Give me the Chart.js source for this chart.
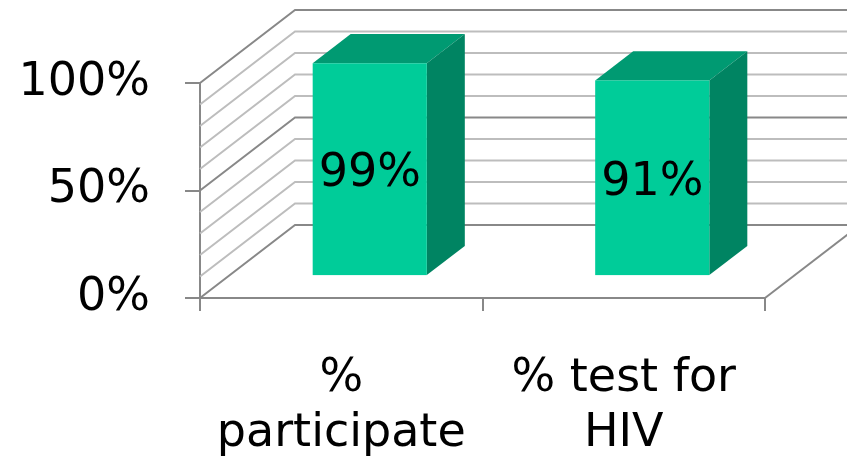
<!DOCTYPE html>
<html>
<head>
<meta charset="utf-8">
<script src="https://cdn.jsdelivr.net/npm/chart.js@4"></script>
<style>
  html, body { margin: 0; padding: 0; background: #fff; }
  #wrap { width: 847px; height: 458px; }
</style>
</head>
<body>
<div id="wrap"><canvas id="hivChart"></canvas></div>
<script>
// categories and results (percent)
const categories = [["%", "participate"], ["% test for", "HIV"]];
const results = [99, 91];
const yMax = 100;
const yStep = 50;
const gridStep = 10;

// 3d look: how far the back wall sits from the front plane
const DEPTH_X = 95;
const DEPTH_Y = -73;
const BAR_FRONT = 0.3;
const BAR_BACK = 0.7;

const FONT = "DejaVu Sans, Verdana, sans-serif";

const frame3d = {
  id: "frame3d",
  beforeDatasetsDraw(chart) {
    const ctx = chart.ctx;
    const area = chart.chartArea;
    const y = chart.scales.y;
    ctx.save();
    ctx.lineWidth = 2;
    for (let v = 0; v <= yMax; v += gridStep) {
      const py = y.getPixelForValue(v);
      ctx.strokeStyle = v % yStep === 0 ? "#888888" : "#bdbdbd";
      ctx.beginPath();
      // side wall diagonal + back wall line
      ctx.moveTo(area.left, py);
      ctx.lineTo(area.left + DEPTH_X, py + DEPTH_Y);
      ctx.lineTo(area.right + DEPTH_X, py + DEPTH_Y);
      ctx.stroke();
    }
    // right edge of the floor
    ctx.strokeStyle = "#888888";
    ctx.beginPath();
    ctx.moveTo(area.right, area.bottom);
    ctx.lineTo(area.right + DEPTH_X, area.bottom + DEPTH_Y);
    ctx.stroke();
    ctx.restore();
  },
  afterDatasetsDraw(chart) {
    const ctx = chart.ctx;
    const meta = chart.getDatasetMeta(0);
    const fx = DEPTH_X * BAR_FRONT, fy = DEPTH_Y * BAR_FRONT;
    const bx = DEPTH_X * BAR_BACK, by = DEPTH_Y * BAR_BACK;
    ctx.save();
    meta.data.forEach((bar, i) => {
      const p = bar.getProps(["x", "y", "base", "width"], true);
      const l = p.x - p.width / 2, r = p.x + p.width / 2;
      // top
      ctx.fillStyle = "#009a72";
      ctx.beginPath();
      ctx.moveTo(l + fx, p.y + fy);
      ctx.lineTo(l + bx, p.y + by);
      ctx.lineTo(r + bx, p.y + by);
      ctx.lineTo(r + fx, p.y + fy);
      ctx.closePath();
      ctx.fill();
      // side
      ctx.fillStyle = "#008462";
      ctx.beginPath();
      ctx.moveTo(r + fx, p.y + fy);
      ctx.lineTo(r + bx, p.y + by);
      ctx.lineTo(r + bx, p.base + by);
      ctx.lineTo(r + fx, p.base + fy);
      ctx.closePath();
      ctx.fill();
      // front
      ctx.fillStyle = "#00cc99";
      ctx.fillRect(l + fx, p.y + fy, p.width, p.base - p.y);
      // value
      ctx.fillStyle = "#000";
      ctx.font = "46px " + FONT;
      ctx.textAlign = "center";
      ctx.textBaseline = "middle";
      ctx.fillText(results[i] + "%", p.x + fx, (p.y + p.base) / 2 + fy + 5);
    });
    ctx.restore();
  }
};

new Chart(document.getElementById("hivChart"), {
  type: "bar",
  data: {
    labels: categories,
    datasets: [{
      data: results,
      backgroundColor: "rgba(0,0,0,0)",
      borderWidth: 0,
      barPercentage: 0.404,
      categoryPercentage: 1
    }]
  },
  options: {
    responsive: true,
    maintainAspectRatio: false,
    animation: false,
    layout: { padding: { top: 83, right: 82, left: 0, bottom: 0 } },
    plugins: {
      legend: { display: false },
      tooltip: { enabled: false }
    },
    scales: {
      x: {
        offset: true,
        grid: { offset: true, drawOnChartArea: false, color: "#888888", lineWidth: 2, tickLength: 13 },
        border: { color: "#888888", width: 2 },
        ticks: { color: "#000", font: { family: FONT, size: 46, lineHeight: 1.2 }, padding: 40, maxRotation: 0, autoSkip: false },
        afterFit(scale) { scale.height = 160; }
      },
      y: {
        min: 0,
        max: yMax,
        grid: { drawOnChartArea: false, color: "#888888", lineWidth: 2, tickLength: 15 },
        border: { color: "#888888", width: 2 },
        ticks: {
          stepSize: yStep,
          color: "#000",
          font: { family: FONT, size: 46 },
          padding: 35,
          callback: v => v + "%"
        },
        afterFit(scale) { scale.width = 200; }
      }
    }
  },
  plugins: [frame3d]
});
</script>
</body>
</html>
